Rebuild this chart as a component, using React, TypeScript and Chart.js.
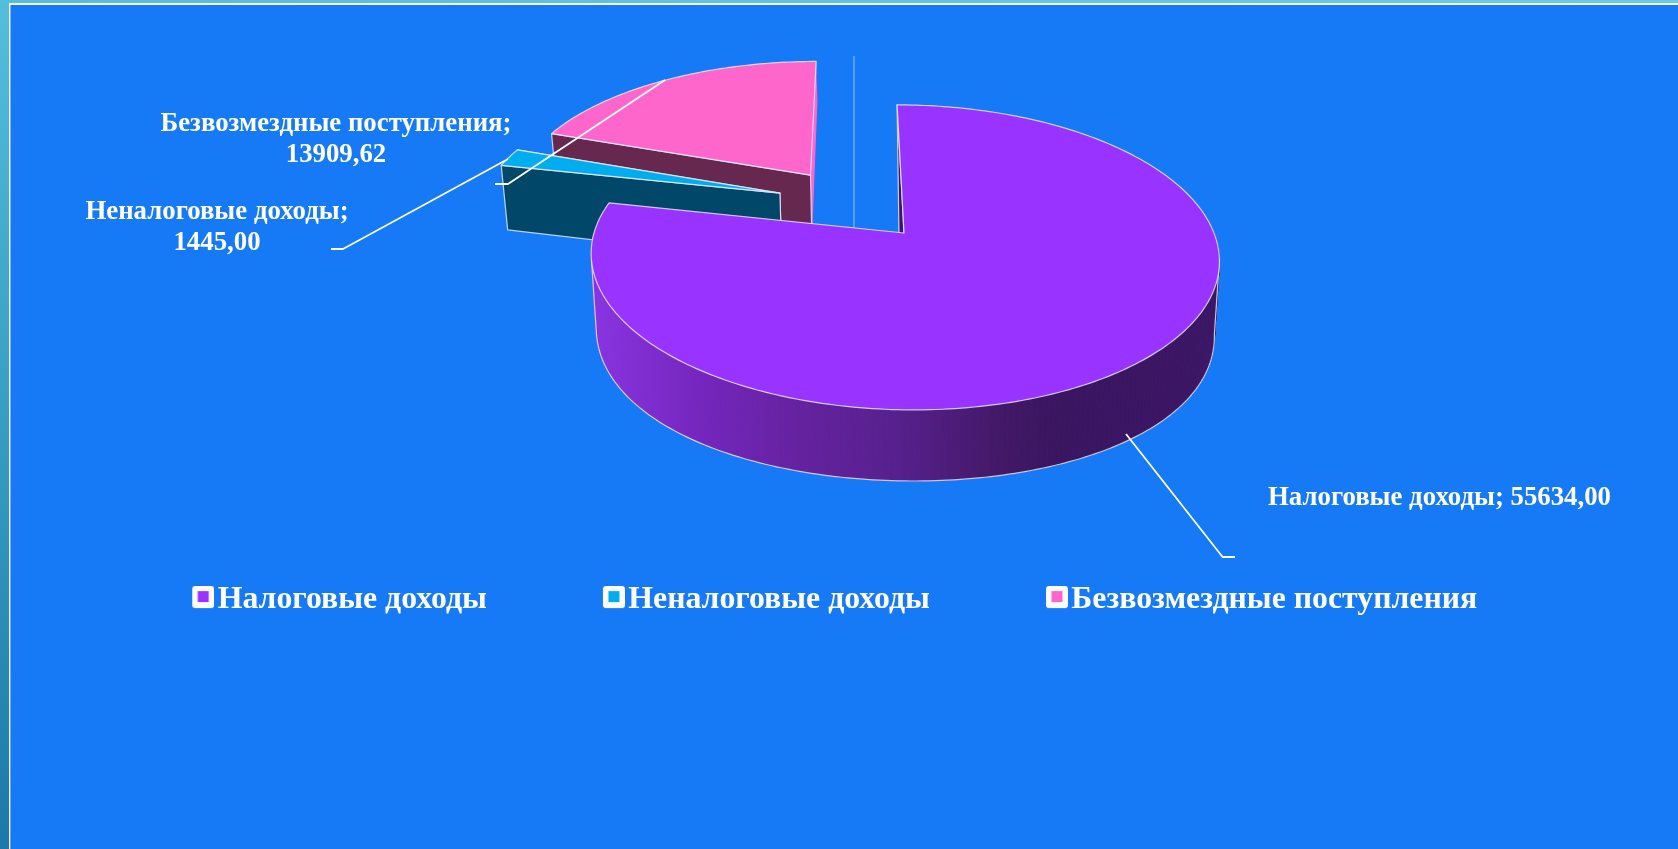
import React, { useEffect, useRef } from "react";
import { Chart, registerables } from "chart.js";

Chart.register(...registerables);

const categories = ["Налоговые доходы", "Неналоговые доходы", "Безвозмездные поступления"];
const values = [55634.0, 1445.0, 13909.62];
const faceColors = ["#9933ff", "#00aeef", "#ff66cc"];
const wallColors = ["#3b1664", "#00476a", "#672850"];

const FONT = '"Liberation Serif", "Times New Roman", serif';
const W = 1678;
const H = 849;

// Perspective of the tilted disc: maps disc coordinates (U right, V towards viewer) to canvas.
const X0 = 904;
const Y0 = 233;
const DEN = -0.16;
const SKEW = 8;
const topMap = (U: number, V: number): [number, number] => [
  X0 + (310 * U + SKEW * V) / (1 + DEN * V),
  Y0 + (148.6 * V) / (1 + DEN * V),
];
const botMap = (U: number, V: number): [number, number] => [
  X0 + (305 * U + SKEW * V) / (1 + DEN * V),
  306 + (161 * V) / (1 - 0.08 * V),
];
// Explosion of each slice in disc units.
const explode: [number, number][] = [
  [0, 0],
  [-0.411, -0.281],
  [-0.311, -0.416],
];

const fmt = (v: number) => v.toFixed(2).replace(".", ",");

function makeSwatch(color: string) {
  const c = document.createElement("canvas");
  c.width = 26;
  c.height = 28;
  const x = c.getContext("2d")!;
  x.fillStyle = "#ffffff";
  x.beginPath();
  x.roundRect(4, 0, 22, 22, 3);
  x.fill();
  x.fillStyle = color;
  x.fillRect(9.5, 5, 11, 11);
  return c;
}

const STROKE = "rgba(235,240,255,0.8)";

function arcPoints(i: number, a0: number, a1: number, map: (U: number, V: number) => [number, number]) {
  const pts: [number, number][] = [];
  const n = Math.max(4, Math.ceil(((a1 - a0) * 180) / Math.PI));
  for (let k = 0; k <= n; k++) {
    const t = a0 + ((a1 - a0) * k) / n;
    pts.push(map(Math.sin(t) + explode[i][0], -Math.cos(t) + explode[i][1]));
  }
  return pts;
}

function poly(ctx: CanvasRenderingContext2D, pts: [number, number][], fill: any, stroke = true) {
  ctx.beginPath();
  pts.forEach((p, k) => (k ? ctx.lineTo(p[0], p[1]) : ctx.moveTo(p[0], p[1])));
  ctx.closePath();
  ctx.fillStyle = fill;
  ctx.fill();
  if (stroke) {
    ctx.strokeStyle = STROKE;
    ctx.lineWidth = 1.2;
    ctx.stroke();
  }
}

function path(ctx: CanvasRenderingContext2D, pts: [number, number][]) {
  ctx.beginPath();
  pts.forEach((p, k) => (k ? ctx.lineTo(p[0], p[1]) : ctx.moveTo(p[0], p[1])));
  ctx.stroke();
}

const pie3d = {
  id: "pie3d",
  beforeDraw(chart: any) {
    const ctx: CanvasRenderingContext2D = chart.ctx;
    ctx.save();
    const g = ctx.createLinearGradient(0, 0, 0, H);
    g.addColorStop(0, "#55bedc");
    g.addColorStop(0.7, "#2d8fb8");
    g.addColorStop(1, "#1c78a8");
    ctx.fillStyle = g;
    ctx.fillRect(0, 0, W, H);
    const t = ctx.createLinearGradient(0, 0, W, 0);
    t.addColorStop(0, "#55bedc");
    t.addColorStop(1, "#66cce8");
    ctx.fillStyle = t;
    ctx.fillRect(0, 0, W, 3);
    ctx.fillStyle = "#ffffff";
    ctx.fillRect(9, 3, W - 9, 2);
    ctx.fillRect(9, 3, 1.6, H);
    ctx.fillStyle = "#1679f5";
    ctx.fillRect(10.6, 5, W - 10.6, H);
    ctx.restore();
  },
  beforeDatasetsDraw(chart: any) {
    const ctx: CanvasRenderingContext2D = chart.ctx;
    const arcs = chart.getDatasetMeta(0).data;
    const ang = (i: number): [number, number] => [arcs[i].startAngle + Math.PI / 2, arcs[i].endAngle + Math.PI / 2];
    ctx.save();
    ctx.lineJoin = "round";

    // thin vertical hairline behind the pie
    ctx.strokeStyle = "#6fb0f8";
    ctx.lineWidth = 1.4;
    path(ctx, [[854, 56], [854, 232]]);

    // exploded slices, farthest first
    for (const i of [2, 1]) {
      const [a0, a1] = ang(i);
      const [du, dv] = explode[i];
      const apexT = topMap(du, dv);
      const apexB = botMap(du, dv);
      const edge = (t: number) => [Math.sin(t) + du, -Math.cos(t) + dv] as const;
      const [sx, sy] = edge(a0);
      const [ex, ey] = edge(a1);
      // end wall (right side)
      poly(ctx, [topMap(ex, ey), apexT, apexB, botMap(ex, ey)], i === 2 ? faceColors[2] : wallColors[i], i !== 2);
      // front wall
      poly(ctx, [topMap(sx, sy), apexT, apexB, botMap(sx, sy)], wallColors[i]);
      poly(ctx, [apexT, ...arcPoints(i, a0, a1, topMap)], faceColors[i]);
    }

    // main slice: dark sliver of the radial wall in the notch
    const [a0, a1] = ang(0);
    const apexB0 = botMap(0, 0);
    poly(ctx, [topMap(Math.sin(a0), -Math.cos(a0)), topMap(0, 0), [apexB0[0] - 4, apexB0[1]]], wallColors[0]);

    // main slice: shaded rim, swept from the top ring to the bottom ring (near side only)
    const g = ctx.createLinearGradient(595, 0, 1212, 0);
    g.addColorStop(0, "#8a33e0");
    g.addColorStop(0.17, "#7526bd");
    g.addColorStop(0.33, "#65229f");
    g.addColorStop(0.49, "#57208c");
    g.addColorStop(0.66, "#431866");
    g.addColorStop(0.75, "#3a1560");
    g.addColorStop(1, "#3c1664");
    const rad = (d: number) => (d * Math.PI) / 180;
    const ringT = arcPoints(0, rad(80), rad(270), topMap);
    const ringB = arcPoints(0, rad(80), rad(270), botMap);
    ctx.strokeStyle = g;
    ctx.lineWidth = 0.8;
    for (let k = 0; k + 1 < ringT.length; k++) {
      ctx.beginPath();
      ctx.moveTo(ringT[k][0], ringT[k][1]);
      ctx.lineTo(ringT[k + 1][0], ringT[k + 1][1]);
      ctx.lineTo(ringB[k + 1][0], ringB[k + 1][1]);
      ctx.lineTo(ringB[k][0], ringB[k][1]);
      ctx.closePath();
      ctx.fillStyle = g;
      ctx.fill();
      ctx.stroke();
    }
    // silhouette of the rim
    const rimFrom = rad(100);
    const rimTo = rad(260);
    ctx.strokeStyle = STROKE;
    ctx.lineWidth = 1.2;
    path(ctx, [
      topMap(Math.sin(rimFrom), -Math.cos(rimFrom)),
      ...arcPoints(0, rimFrom, rimTo, botMap),
      topMap(Math.sin(rimTo), -Math.cos(rimTo)),
    ]);
    poly(ctx, [topMap(0, 0), ...arcPoints(0, a0, a1, topMap)], faceColors[0]);

    // leader lines
    ctx.strokeStyle = "#ffffff";
    ctx.lineWidth = 1.8;
    const leaders: [number, number][][] = [
      [[665, 80], [508, 184], [495, 184]],
      [[508, 159], [343, 249], [331, 249]],
      [[1126, 434], [1222.6, 557], [1235, 557]],
    ];
    leaders.forEach((l) => path(ctx, l));

    // data labels
    ctx.fillStyle = "#ffffff";
    ctx.font = `bold 26.8px ${FONT}`;
    ctx.textAlign = "center";
    ctx.textBaseline = "middle";
    ctx.fillText(`${categories[2]};`, 336, 124.5);
    ctx.fillText(fmt(values[2]), 336, 155);
    ctx.fillText(`${categories[1]};`, 217, 212.5);
    ctx.fillText(fmt(values[1]), 217, 243);
    ctx.fillText(`${categories[0]}; ${fmt(values[0])}`, 1439.5, 498);

    ctx.restore();
    return false; // the slices are drawn above, from the library's arc angles
  },
};

export default function App() {
  const ref = useRef<HTMLCanvasElement | null>(null);
  useEffect(() => {
    document.body.style.margin = "0";
    const chart = new Chart(ref.current!, {
      type: "pie",
      data: {
        labels: categories,
        datasets: [{ data: values, backgroundColor: faceColors }],
      },
      plugins: [pie3d],
      options: {
        animation: false,
        responsive: false,
        rotation: 0,
        layout: { padding: { bottom: 223 } },
        plugins: {
          tooltip: { enabled: false },
          legend: {
            position: "bottom",
            labels: {
              usePointStyle: true,
              boxWidth: 1,
              padding: 124.5,
              color: "#ffffff",
              font: { family: FONT, size: 31.8, weight: "bold" },
              generateLabels: () =>
                categories.map((text, i) => ({
                  text,
                  fillStyle: faceColors[i],
                  strokeStyle: faceColors[i],
                  fontColor: "#ffffff",
                  pointStyle: makeSwatch(faceColors[i]),
                  index: i,
                  hidden: false,
                })),
            },
          },
        },
      },
    } as any);
    return () => chart.destroy();
  }, []);
  return <canvas ref={ref} width={W} height={H} style={{ display: "block", width: W, height: H }} />;
}
